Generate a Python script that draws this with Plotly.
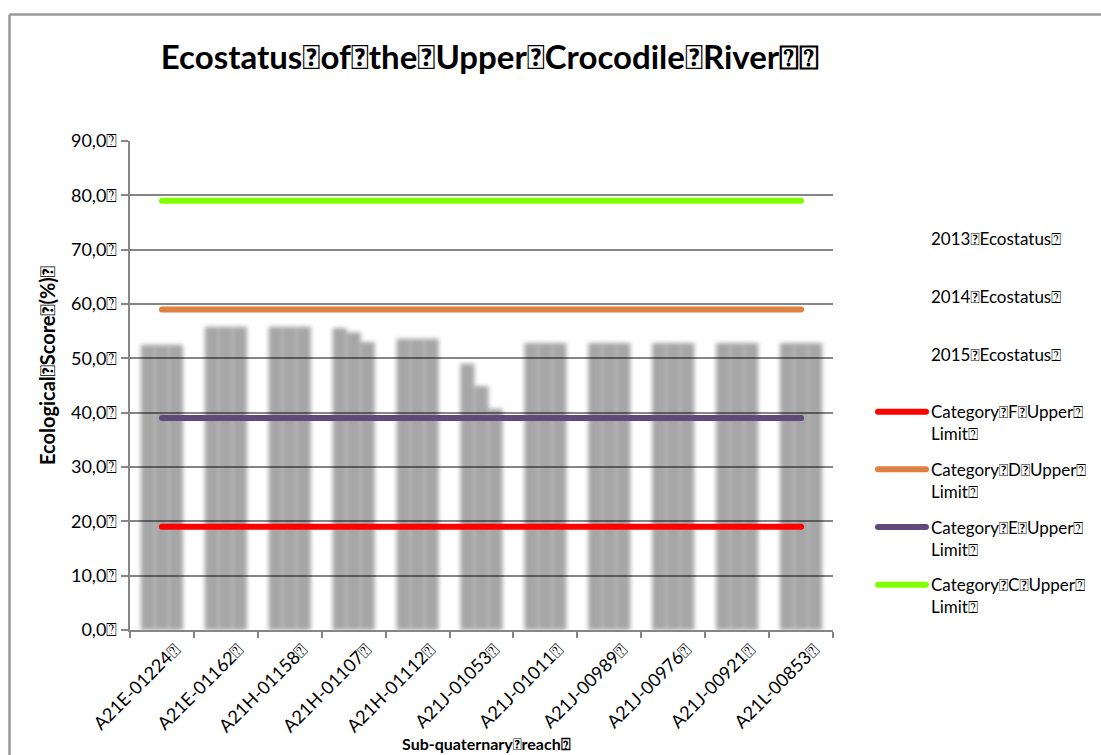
import plotly.graph_objects as go

# Sub-quaternary reaches along the Upper Crocodile River
reaches = ["A21E-01224", "A21E-01162", "A21H-01158", "A21H-01107", "A21H-01112",
           "A21J-01053", "A21J-01011", "A21J-00989", "A21J-00976", "A21J-00921",
           "A21L-00853"]

# Ecostatus scores (%) per survey year
eco_2013 = [52.5, 55.8, 55.8, 55.6, 53.6, 49.0, 52.8, 52.8, 52.8, 52.8, 52.8]
eco_2014 = [52.5, 55.8, 55.8, 54.8, 53.6, 44.9, 52.8, 52.8, 52.8, 52.8, 52.8]
eco_2015 = [52.5, 55.8, 55.8, 53.0, 53.6, 40.7, 52.8, 52.8, 52.8, 52.8, 52.8]

# Upper limits of the ecological categories
limit_f = 19
limit_d = 59
limit_e = 39
limit_c = 79

SEP = "\uf020"   # symbol-font space carried over from the source document
END = "\u2370"

FONT = "Lato, 'Open Sans', sans-serif"
GRID = "#868686"

fig = go.Figure()

bar_series = [("2013", eco_2013), ("2014", eco_2014), ("2015", eco_2015)]
for i, (year, vals) in enumerate(bar_series):
    fig.add_trace(go.Bar(
        x=reaches, y=vals,
        name=f"{year}{SEP}Ecostatus{END}<br>\u00a0",
        legendgroup=f"g{i}",
        marker=dict(color="rgba(0,0,0,0.35)", line=dict(width=0)),
    ))

line_series = [
    (f"Category{SEP}F{SEP}Upper{END}<br>Limit{END}", limit_f, "#ff0000"),
    (f"Category{SEP}D{SEP}Upper{END}<br>Limit{END}", limit_d, "#dd8040"),
    (f"Category{SEP}E{SEP}Upper{END}<br>Limit{END}", limit_e, "#604a7b"),
    (f"Category{SEP}C{SEP}Upper{END}<br>Limit{END}", limit_c, "#80ff00"),
]
for j, (label, lim, col) in enumerate(line_series):
    fig.add_trace(go.Scatter(
        x=reaches, y=[lim] * len(reaches),
        mode="lines", name=label, legendgroup=f"l{j}",
        line=dict(color=col, width=6),
    ))

fig.update_layout(
    width=1101, height=755,
    margin=dict(l=130, r=268, t=141, b=125, autoexpand=False),
    paper_bgcolor="white", plot_bgcolor="white",
    separators=",.",
    font=dict(family=FONT, color="#000000"),
    barmode="group", bargap=0.34, bargroupgap=0,
    title=dict(
        text=f"<b>Ecostatus{SEP}of{SEP}the{SEP}Upper{SEP}Crocodile{SEP}River{END}{END}</b>",
        x=490 / 1101, xref="container", xanchor="center",
        y=1 - 57 / 755, yref="container", yanchor="middle",
        font=dict(size=33, family=FONT, color="#000000"),
    ),
    legend=dict(
        xref="container", yref="container",
        x=873 / 1101, xanchor="left",
        y=1 - 221 / 755, yanchor="top",
        font=dict(size=17, family=FONT, color="#000000"),
        valign="top", tracegroupgap=10.5, itemwidth=48,
        bgcolor="rgba(0,0,0,0)", maxheight=700,
    ),
    xaxis=dict(
        type="category", tickangle=-45, tickson="boundaries",
        ticks="outside", ticklen=6, tickwidth=2, tickcolor=GRID,
        showline=True, linecolor=GRID, linewidth=2,
        showgrid=False, ticksuffix=END, ticklabelshift=13,
        automargin=False,
        tickfont=dict(size=18, family=FONT, color="#000000"),
    ),
    yaxis=dict(
        range=[0, 90], dtick=10, tickformat=".1f", ticksuffix=END,
        ticks="outside", ticklen=7, tickwidth=2, tickcolor=GRID,
        showline=True, linecolor=GRID, linewidth=2,
        showgrid=True, gridcolor=GRID, gridwidth=1.5, zeroline=False,
        automargin=False,
        tickfont=dict(size=18, family=FONT, color="#000000"),
    ),
    showlegend=True,
)

# axis titles
fig.add_annotation(
    text=f"<b>Ecological{SEP}Score{SEP}(%){END}</b>", textangle=-90,
    xref="paper", yref="paper", x=(47 - 130) / 703, y=(630 - 366) / 489,
    xanchor="center", yanchor="middle", showarrow=False,
    font=dict(size=20, family=FONT, color="#000000"),
)
fig.add_annotation(
    text=f"<b>Sub-quaternary{SEP}reach{END}</b>",
    xref="paper", yref="paper", x=(487 - 130) / 703, y=(630 - 743) / 489,
    xanchor="center", yanchor="middle", showarrow=False,
    font=dict(size=16, family=FONT, color="#000000"),
)

# chart-area frame (left and top edges)
fig.add_shape(type="line", xref="paper", yref="paper",
              x0=(9.5 - 130) / 703, x1=(1110 - 130) / 703,
              y0=(630 - 14.5) / 489, y1=(630 - 14.5) / 489,
              line=dict(color="#9a9a9a", width=2.5))
fig.add_shape(type="line", xref="paper", yref="paper",
              x0=(9.5 - 130) / 703, x1=(9.5 - 130) / 703,
              y0=(630 - 14.5) / 489, y1=(630 - 770) / 489,
              line=dict(color="#9a9a9a", width=2.5))

post = """
(function(){
  var holder = document.createElement('div');
  holder.innerHTML = '<svg width="0" height="0" style="position:absolute">' +
    '<defs><filter id="barsoft" x="-10%" y="-10%" width="120%" height="120%">' +
    '<feGaussianBlur stdDeviation="2.2"/></filter></defs></svg>';
  document.body.appendChild(holder.firstChild);
  var st = document.createElement('style');
  st.textContent = '.barlayer .trace{filter:url(#barsoft);}' +
    '.legend .legendpoints path{display:none;}' +
    '.scatterlayer .js-line, .legendlines path{stroke-linecap:round;}';
  document.head.appendChild(st);
})();
"""

fig.write_html("out.html", post_script=post)
